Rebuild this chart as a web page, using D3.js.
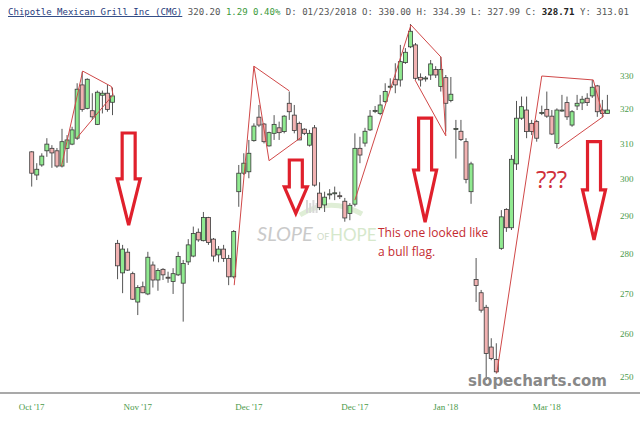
<!DOCTYPE html>
<html><head><meta charset="utf-8">
<script src="https://cdn.jsdelivr.net/npm/d3@7/dist/d3.min.js"></script>
<style>body{margin:0;background:#fff}svg{display:block}</style>
</head><body><svg id="c" width="640" height="423"></svg>
<script>
// ---- data ----
const opens  = [307.7,301.2,304.0,308.0,308.7,308.0,303.7,308.7,309.9,311.6,327.3,320.3,319.6,315.6,324.2,324.8,322.1,
282.8,275.2,280.5,275.0,267.9,271.7,269.9,277.2,273.4,276.1,274.1,273.0,274.7,272.6,278.0,279.5,285.7,283.5,289.6,283.9,279.8,281.3,278.9,274.2,
296.6,301.7,302.1,310.9,317.7,315.7,309.4,313.0,314.6,313.5,321.8,318.3,315.9,314.2,309.6,314.6,296.2,293.0,295.9,296.2,295.5,294.0,290.7,
293.2,308.7,310.2,314.0,319.5,318.8,322.3,326.8,329.0,328.8,334.1,339.0,339.6,329.6,329.3,330.3,332.0,326.8,329.5,322.6,314.2,313.6,310.6,296.6,
273.5,270.2,266.6,257.0,254.1,281.5,291.8,286.9,304.3,317.4,319.8,315.9,316.4,319.0,320.0,318.0,310.1,319.7,322.0,315.4,321.0,321.9,323.3,324.0,327.0,319.8,318.8];
const highs  = [307.9,304.5,307.3,311.6,309.6,308.8,314.3,312.5,314.9,327.8,331.3,329.3,324.8,325.6,325.6,327.3,326.5,
283.7,282.4,281.5,275.5,272.1,273.0,280.6,278.1,276.4,276.4,275.5,276.4,280.6,278.5,283.9,287.2,286.7,291.1,289.8,284.2,282.1,282.4,279.8,286.3,
304.0,307.3,311.1,315.9,321.3,316.0,313.5,318.3,316.4,318.3,325.3,321.3,316.4,314.5,314.0,315.4,299.2,296.6,297.3,298.0,296.6,294.9,293.5,
313.0,312.0,314.6,319.8,321.0,324.3,327.8,329.3,333.9,339.6,338.6,346.2,340.2,330.8,330.0,334.9,333.0,335.9,330.3,329.7,316.9,316.9,311.6,304.9,
279.0,270.9,267.2,259.1,257.9,291.6,292.1,306.8,322.5,323.8,323.8,316.9,316.9,321.1,325.3,319.8,320.3,324.3,323.8,319.8,324.3,324.0,324.8,328.8,327.3,322.8,324.3];
const lows   = [298.0,299.8,303.5,306.3,303.2,303.2,303.3,304.6,309.6,311.1,319.3,320.0,316.9,315.4,318.8,319.3,318.3,
273.6,270.1,275.7,268.4,264.7,270.1,269.6,271.5,270.7,273.4,272.7,269.9,274.4,263.1,277.2,279.2,283.2,283.3,282.4,278.1,277.9,278.0,272.1,273.8,
292.5,301.2,300.3,310.6,314.8,310.1,309.2,311.1,311.1,313.0,316.9,313.0,311.1,312.5,309.2,298.0,291.6,291.1,294.5,294.3,294.6,288.5,288.9,
292.6,304.5,309.2,313.7,318.9,318.3,321.8,326.0,324.8,326.8,333.7,338.6,328.8,326.8,328.3,328.8,329.4,325.3,313.5,322.1,305.8,310.8,298.9,293.3,
267.9,265.3,249.3,253.9,250.8,281.1,285.8,286.3,302.6,316.9,311.6,312.5,310.6,318.3,317.5,312.5,308.7,319.3,316.9,314.9,319.8,319.8,321.0,323.4,317.8,317.6,318.8];
const closes = [301.7,302.8,306.5,309.9,307.4,303.7,310.6,311.1,314.0,326.0,320.0,329.0,317.8,325.1,324.8,320.0,324.0,
277.0,281.3,275.9,268.6,271.5,270.2,279.2,273.4,275.8,274.7,274.0,275.0,279.4,277.6,282.4,285.4,283.7,289.6,283.0,279.5,281.3,278.9,274.2,285.9,
301.7,304.5,307.3,315.1,315.4,310.6,313.2,315.6,313.2,318.0,319.3,313.8,311.1,313.0,313.0,298.4,292.3,295.1,296.0,296.3,295.4,289.5,292.9,
308.7,306.8,313.6,318.0,319.7,321.3,325.3,326.9,327.3,334.4,337.3,343.9,329.3,328.8,329.4,333.7,330.3,332.0,321.8,324.5,314.4,311.2,300.0,304.3,
272.0,265.9,255.5,254.3,251.2,289.8,286.9,305.6,317.4,320.8,313.5,313.5,311.6,319.1,318.0,312.8,319.8,319.8,317.8,319.3,321.8,323.0,322.0,326.6,319.3,318.8,319.8];
const priceTicks = [250,260,270,280,290,300,310,320,330];
const dateTickIdx = [0,21,43,64,82,102];
const dateTickLabels = ["Oct '17","Nov '17","Dec '17","Dec '17","Jan '18","Mar '18"];
// pattern lines drawn on the chart: [candle index, price]
const flagLines = [
  [[5.9,303.7],[10.1,331.5],[15.8,326.8],[16.1,324.3],[8.9,311.6]],
  [[40.1,272.1],[44.0,333.0],[51.0,325.5]],
  [[44.0,333.0],[47.0,305.2],[53.5,312.0]],
  [[64.0,294.3],[75.1,345.9],[81.05,335.8],[82.0,312.3],[75.9,328.8]],
  [[92.1,250.9],[101.0,330.0],[111.2,328.8],[113.2,317.9],[104.3,308.6]]
];
// down arrows: [candle index, top price, neck price, tip price]
const arrows = [[19.2,313.1,300.1,287.6],[52.3,305.4,297.9,290.7],[77.9,317.4,302.6,288.4],[111.35,310.6,297.1,283.7]];

// ---- drawing ----
const svg = d3.select("#c");
const n = opens.length;
const x = d3.scaleLinear().domain([0, n-1]).range([31.7, 607.4]);
const y = d3.scaleLog().domain([250, 330]).range([377, 76]);

// header
const hdr = svg.append("text").attr("x",8).attr("y",15)
  .attr("font-family","DejaVu Sans Mono, monospace").attr("font-size",9.05)
  .attr("xml:space","preserve").style("white-space","pre");
hdr.append("tspan").attr("fill","#1f3c7c").attr("text-decoration","underline").text("Chipotle Mexican Grill Inc (CMG)");
hdr.append("tspan").attr("fill","#555").text(" 320.20 ");
hdr.append("tspan").attr("fill","#3c9a3c").text("1.29 0.40%");
hdr.append("tspan").attr("fill","#555").text(" D: 01/23/2018 O: 330.00 H: 334.39 L: 327.99 C: ");
hdr.append("tspan").attr("fill","#222").attr("font-weight","bold").text("328.71");
hdr.append("tspan").attr("fill","#555").text(" Y: 313.01");

// watermark
const wm = svg.append("g");
wm.append("path").attr("d","M300,215 Q330,196 362,214").attr("fill","none").attr("stroke","#dfeed6").attr("stroke-width",5);
[0,1,2,3].forEach(k=>wm.append("rect").attr("x",306+k*3.2).attr("y",200+(k%2)*3).attr("width",2).attr("height",13-(k%2)*3).attr("fill","#d8d8d8"));
wm.append("text").attr("x",257).attr("y",241).attr("font-family","Lato, sans-serif").attr("font-style","italic").attr("font-size",20).attr("fill","#cacaca").text("SLOPE");
wm.append("text").attr("x",317).attr("y",240).attr("font-family","Lato, sans-serif").attr("font-size",9).attr("fill","#cfdcc8").text("OF");
wm.append("text").attr("x",330).attr("y",241).attr("font-family","Lato, sans-serif").attr("font-size",17)
  .attr("fill","#d6e8cc").text("HOPE");

// x axis line
svg.append("line").attr("x1",0).attr("x2",640).attr("y1",393).attr("y2",393).attr("stroke","#8c8c8c").attr("stroke-width",1.5);

// y labels
svg.append("g").selectAll("text").data(priceTicks).join("text")
  .attr("x",620).attr("y",d=>y(d)+3).attr("font-family","Liberation Serif, serif").attr("font-size",9)
  .attr("fill","#4a9a4a").text(d=>d);
// x labels
svg.append("g").selectAll("text").data(dateTickIdx).join("text")
  .attr("x",d=>x(d)).attr("y",410).attr("text-anchor","middle").attr("font-family","Liberation Serif, serif").attr("font-size",9)
  .attr("fill","#4a9a4a").text((d,i)=>dateTickLabels[i]);

// candles
const idx = d3.range(n);
const cg = svg.append("g");
cg.selectAll("line").data(idx).join("line")
  .attr("x1",i=>x(i)).attr("x2",i=>x(i)).attr("y1",i=>y(highs[i])).attr("y2",i=>y(lows[i]))
  .attr("stroke","#555").attr("stroke-width",1);
cg.selectAll("rect").data(idx).join("rect")
  .attr("x",i=>x(i)-2).attr("width",4)
  .attr("y",i=>y(Math.max(opens[i],closes[i])))
  .attr("height",i=>Math.max(1,Math.abs(y(opens[i])-y(closes[i]))))
  .attr("fill",i=>closes[i]>=opens[i]?"#90ea90":"#f2b2b2")
  .attr("stroke","#3a3a3a").attr("stroke-width",0.8);

// flag lines
const lineGen = d3.line().x(d=>x(d[0])).y(d=>y(d[1]));
svg.append("g").selectAll("path").data(flagLines).join("path")
  .attr("d",lineGen).attr("fill","none").attr("stroke","#d04848").attr("stroke-width",1);

// arrows
svg.append("g").selectAll("path").data(arrows).join("path")
  .attr("d",a=>{const cx=x(a[0]),t=y(a[1]),nk=y(a[2]),tp=y(a[3]),s=6.5,h=11.5;
    return `M${cx-s},${t}L${cx+s},${t}L${cx+s},${nk}L${cx+h},${nk}L${cx},${tp}L${cx-h},${nk}L${cx-s},${nk}Z`;})
  .attr("fill","#fff").attr("stroke","#e0202c").attr("stroke-width",3.2).attr("stroke-linejoin","miter");

// notes
const note = svg.append("g").attr("font-family","Open Sans, sans-serif").attr("fill","#c42a30");
note.append("text").attr("x",378).attr("y",237).attr("font-size",12).text("This one looked like");
note.append("text").attr("x",378).attr("y",256).attr("font-size",12).text("a bull flag.");
note.append("text").attr("x",536).attr("y",188).attr("font-size",24).attr("fill","#d0303a").text("???");

svg.append("text").attr("x",468).attr("y",386).attr("font-family","DejaVu Sans, sans-serif").attr("font-weight","bold")
  .attr("font-size",16).attr("textLength",139).attr("lengthAdjust","spacingAndGlyphs").attr("fill","#888").text("slopecharts.com");
</script></body></html>
